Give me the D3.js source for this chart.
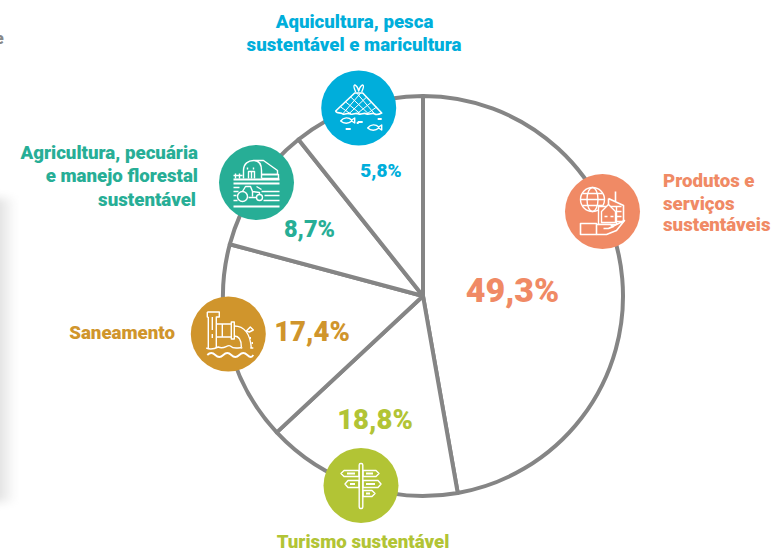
<!DOCTYPE html>
<html>
<head>
<meta charset="utf-8">
<script src="https://cdn.jsdelivr.net/npm/d3@7"></script>
<style>
html, body { margin: 0; padding: 0; background: #fff; }
svg { display: block; }
text { font-family: Roboto, sans-serif; font-weight: 900; }
</style>
</head>
<body>
<svg id="chart" width="774" height="552"></svg>
<script>
// order is clockwise from 12 o'clock
const categories = ['Produtos e serviços sustentáveis', 'Turismo sustentável', 'Saneamento',
    'Agricultura, pecuária e manejo florestal sustentável', 'Aquicultura, pesca e maricultura']
const percentLabels = ['49,3%', '18,8%', '17,4%', '8,7%', '5,8%']
// the drawn slices are not proportional to the printed percentages, so sweeps are read off the picture
const sliceSweeps = [170, 57, 58, 36.5, 38.5]
const colors = ['#f08a65', '#b2c435', '#d0952c', '#27ae96', '#00aedb']

const cx = 423
const cy = 296
const radius = 200
const grey = '#858585'

const svg = d3.select('#chart')

// soft shadow of a neighbouring panel on the left edge
const defs = svg.append('defs')
const shadow = defs.append('linearGradient').attr('id', 'edge')
shadow.append('stop').attr('offset', 0).attr('stop-color', '#d4d4d4')
shadow.append('stop').attr('offset', 1).attr('stop-color', '#ffffff')
defs.append('filter').attr('id', 'blur').append('feGaussianBlur').attr('stdDeviation', 5)
svg.append('rect').attr('x', -10).attr('y', 198).attr('width', 26).attr('height', 304)
    .attr('fill', 'url(#edge)').attr('filter', 'url(#blur)')
svg.append('text').attr('x', -5).attr('y', 44).attr('font-size', 16).attr('fill', '#888').text('e')

const pie = d3.pie().sort(null).value(d => d)
const arc = d3.arc().innerRadius(0).outerRadius(radius)

const slices = svg.append('g').attr('transform', `translate(${cx},${cy})`)
slices.selectAll('path').data(pie(sliceSweeps)).join('path')
    .attr('d', arc)
    .attr('fill', '#fff')
    .attr('stroke', grey)
    .attr('stroke-width', 4)
    .attr('stroke-linejoin', 'round')

// icons
const badges = [
    { x: 602.5, y: 211.5, r: 37.5, draw: iconGoods },
    { x: 361, y: 485.5, r: 37.5, draw: iconSign },
    { x: 228.3, y: 334, r: 37.5, draw: iconPipe },
    { x: 256.5, y: 182.5, r: 37.5, draw: iconFarm },
    { x: 358.7, y: 108, r: 37.5, draw: iconNet }
]

badges.forEach((b, i) => {
    const g = svg.append('g').attr('transform', `translate(${b.x},${b.y})`)
    g.append('circle').attr('r', b.r).attr('fill', colors[i])
    const ic = g.append('g').attr('fill', 'none').attr('stroke', '#fff')
        .attr('stroke-width', 1.4).attr('stroke-linejoin', 'round')
    b.draw(ic, colors[i])
})

function iconGoods (g, col) {
    // globe
    g.append('circle').attr('cx', -10).attr('cy', -12).attr('r', 12)
    g.append('ellipse').attr('cx', -10).attr('cy', -12).attr('rx', 5.5).attr('ry', 12)
    g.append('path').attr('d', 'M-22,-12H2M-20,-18H0M-20,-6H0')
    // buildings
    g.append('path').attr('d', 'M13,-20V-10M6,-13L21,-6V10H14M6,-13V-5').attr('stroke-width', 1.6)
    g.append('path').attr('d', 'M14,-5H19M14,0H19M14,5H19')
    g.append('path').attr('fill', col).attr('d', 'M-4,-5H14V13H-4Z')
    g.append('path').attr('fill', col).attr('d', 'M-1,0L6,-7L13,0V11H-1Z')
    g.append('path').attr('d', 'M2,5H5M8,5H11')
    // hand
    g.append('rect').attr('x', -22).attr('y', 12).attr('width', 16).attr('height', 11).attr('stroke-width', 1.6)
    g.append('path').attr('fill', col).attr('stroke-width', 1.6)
        .attr('d', 'M-6,13H8L11,15L6,17H1M6,17L22,9L14,19L4,23H-6')
}

function iconSign (g) {
    g.append('rect').attr('x', -1.8).attr('y', -22).attr('width', 3.6).attr('height', 45).attr('rx', 1.5)
    const arrows = ['M-2,-15H-17L-20,-12L-17,-9H-2Z', 'M2,-15H15L18,-12L15,-9H2Z',
        'M-2,-5H-13L-16,-1.5L-13,2H-2Z', 'M2,-5H17L20,-1.5L17,2H2Z', 'M2,5H11L14,8L11,11H2Z']
    g.selectAll('path.arrow').data(arrows).join('path').attr('class', 'arrow').attr('d', d => d)
    g.append('path').attr('stroke-width', 2)
        .attr('d', 'M-14,-12H-6M5,-12H12M-11,-1.5H-6M5,-1.5H14M5,8H9')
}

function iconPipe (g) {
    g.append('path').attr('d', 'M-21,-22H-9V-17H-12V14M-16,-17V-4M-16,0V4M-20,-17V14M-21,-22V-17H-20')
    g.append('path').attr('d', 'M-12,-10H3M-12,3H3M-6,-10V3M3,-12V5L6,5V-12Z')
    g.append('path').attr('d', 'M6,-8C16,-8 22,0 23,14M6,2C11,2 13,6 13,13')
    g.append('path').attr('d', 'M-22,14C-18,16 -14,15 -10,13C-4,16 -1,10 2,12C6,16 10,13 14,14M22,14H25')
    g.append('path').attr('d', 'M18,-3L22,-7L25,-4L21,-2ZM22,3V5M24,8V10')
    g.append('path').attr('stroke-width', 1.8)
        .attr('d', 'M-21,21Q-17,17 -13,21T-5,21T3,21T11,21T19,21T25,21')
}

function iconFarm (g) {
    g.append('path').attr('d', 'M-13,-4V-12C-13,-19 -8,-22 -3,-22C2,-22 5,-19 5,-12V-4M-3,-22H7L21,-12V-8H5')
    g.append('path').attr('d', 'M-8,-4V-11H-2V-4M5,-8H22V-4H5M-5,-11V-4M-9,-15V-13M-3,-15V-13')
    g.append('path').attr('d', 'M-21,-9V-4M-17,-9V-4M-23,-7H-14')
    g.append('path').attr('stroke-width', 1.8).attr('d', 'M-23,-3H23M-23,1H23')
    g.append('path').attr('stroke-width', 1.6).attr('d', 'M-23,5H-17M-23,9H-18M-23,13H-20M5,9H23M8,13H23M7,18H23M-23,18H-19')
    g.append('path').attr('stroke-width', 1.8).attr('d', 'M-23,24H23')
    g.append('circle').attr('cx', -14).attr('cy', 14).attr('r', 5)
    g.append('circle').attr('cx', 3).attr('cy', 15).attr('r', 3)
    g.append('path').attr('d', 'M-14,9L-11,4H-6L-4,9L3,10V12M-8,15H0M-4,9V14M0,4L5,7')
}

function iconNet (g) {
    g.append('path').attr('d', 'M-3,-16C-7,-25 -3,-24 -1,-20L0,-17L1,-20C3,-24 7,-25 3,-16')
    g.append('path').attr('d', 'M-4,-15L-23,3C-22,6 -18,4 -16,6C-13,7 -11,4 -8,6C-5,7 -3,4 0,6C3,7 5,4 8,6C11,7 14,4 16,6C18,7 21,6 23,5L4,-15Z')
        .attr('stroke-width', 1.6)
    const net = ['M-8,-11L10,6', 'M-13,-6L2,6', 'M-18,-1L-8,6', 'M-2,-15L16,6', 'M8,-11L-10,6', 'M13,-6L-2,6', 'M18,-1L8,6', 'M2,-15L-16,6']
    g.selectAll('path.net').data(net).join('path').attr('class', 'net').attr('d', d => d).attr('stroke-width', 1)
    g.append('path').attr('d', 'M-18,13C-15,9 -10,9 -7,12L-4,10V15L-7,13C-10,16 -15,16 -18,13Z')
    g.append('path').attr('d', 'M9,20C12,16 17,16 20,19L23,17V22L20,20C17,23 12,23 9,20Z')
    g.append('path').attr('stroke-width', 2).attr('d', 'M19,11H23M-1,14H4M-1,14V16M-13,21H-8')
}

// labels
const labelLines = [
    [{ t: 'Produtos e', x: 663, y: 187, a: 'start' }, { t: 'serviços', x: 663, y: 210, a: 'start' }, { t: 'sustentáveis', x: 663, y: 231, a: 'start' }],
    [{ t: 'Turismo sustentável', x: 363, y: 548, a: 'middle' }],
    [{ t: 'Saneamento', x: 175, y: 339, a: 'end' }],
    [{ t: 'Agricultura, pecuária', x: 198, y: 159, a: 'end' }, { t: 'e manejo florestal', x: 198, y: 182, a: 'end' }, { t: 'sustentável', x: 196, y: 206, a: 'end' }],
    [{ t: 'Aquicultura, pesca', x: 354.5, y: 28, a: 'middle' }, { t: 'sustentável e maricultura', x: 354, y: 51, a: 'middle' }]
]
labelLines.forEach((lines, i) => {
    svg.append('g').attr('fill', colors[i]).attr('font-size', 18.7).selectAll('text').data(lines).join('text')
        .attr('x', d => d.x).attr('y', d => d.y).attr('text-anchor', d => d.a).text(d => d.t)
})

const pctSpots = [
    { x: 512.5, y: 302, size: 34 }, { x: 375, y: 429, size: 27.5 }, { x: 312, y: 341, size: 27.5 },
    { x: 309.5, y: 237, size: 23.5 }, { x: 381, y: 177, size: 19 }
]
svg.append('g').selectAll('text').data(percentLabels).join('text')
    .attr('x', (d, i) => pctSpots[i].x).attr('y', (d, i) => pctSpots[i].y)
    .attr('font-size', (d, i) => pctSpots[i].size)
    .attr('text-anchor', 'middle')
    .attr('fill', (d, i) => colors[i])
    .text(d => d)
</script>
</body>
</html>
